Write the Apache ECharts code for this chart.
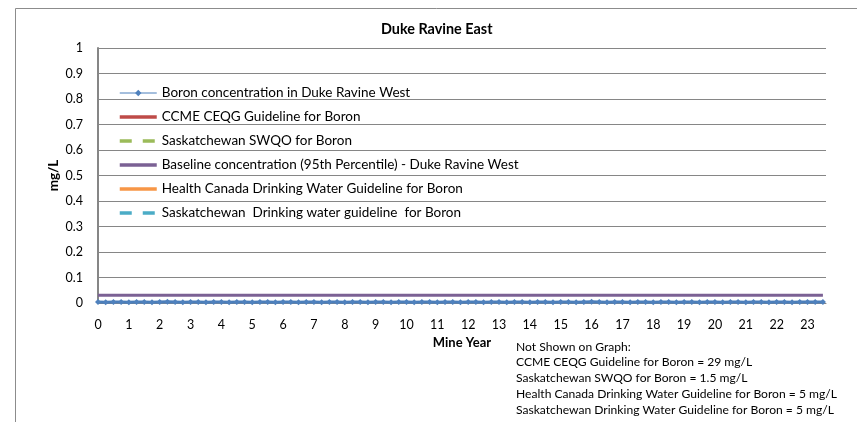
<!DOCTYPE html>
<html>
<head>
<meta charset="utf-8">
<script src="https://cdn.jsdelivr.net/npm/echarts@6/dist/echarts.min.js"></script>
<style>
html,body{margin:0;padding:0;background:#fff;}
#c{width:857px;height:422px;}
</style>
</head>
<body>
<div id="c"></div>
<script>
// ---- data ----
var title = 'Duke Ravine East';
var yTicks = [0, 0.1, 0.2, 0.3, 0.4, 0.5, 0.6, 0.7, 0.8, 0.9, 1];
var xTicks = [0,1,2,3,4,5,6,7,8,9,10,11,12,13,14,15,16,17,18,19,20,21,22,23];
var boronYears = [0,0.25,0.5,0.75,1,1.25,1.5,1.75,2,2.25,2.5,2.75,3,3.25,3.5,3.75,4,4.25,4.5,4.75,5,5.25,5.5,5.75,6,6.25,6.5,6.75,7,7.25,7.5,7.75,8,8.25,8.5,8.75,9,9.25,9.5,9.75,10,10.25,10.5,10.75,11,11.25,11.5,11.75,12,12.25,12.5,12.75,13,13.25,13.5,13.75,14,14.25,14.5,14.75,15,15.25,15.5,15.75,16,16.25,16.5,16.75,17,17.25,17.5,17.75,18,18.25,18.5,18.75,19,19.25,19.5,19.75,20,20.25,20.5,20.75,21,21.25,21.5,21.75,22,22.25,22.5,22.75,23,23.25,23.5];
var boronValues = [0.004,0.003,0.004,0.004,0.003,0.004,0.004,0.003,0.004,0.005,0.004,0.003,0.004,0.004,0.003,0.004,0.004,0.003,0.004,0.004,0.003,0.004,0.004,0.003,0.004,0.004,0.003,0.004,0.004,0.003,0.004,0.004,0.003,0.004,0.004,0.003,0.004,0.004,0.003,0.004,0.004,0.003,0.004,0.004,0.003,0.004,0.004,0.003,0.004,0.004,0.003,0.004,0.004,0.003,0.004,0.004,0.003,0.004,0.004,0.003,0.004,0.004,0.003,0.004,0.005,0.004,0.003,0.004,0.004,0.003,0.004,0.004,0.003,0.004,0.004,0.003,0.004,0.004,0.003,0.004,0.004,0.003,0.004,0.004,0.003,0.004,0.004,0.003,0.004,0.004,0.003,0.004,0.004,0.004,0.004];
var guideYears = [0, 23.5];
var ccmeValue = 29;
var swqoValue = 1.5;
var baselineValue = 0.03;
var healthValue = 5;
var skDrinkValue = 5;
var seriesNames = [
  'Boron concentration in Duke Ravine West',
  'CCME CEQG Guideline for Boron',
  'Saskatchewan SWQO for Boron',
  'Baseline concentration (95th Percentile) - Duke Ravine West',
  'Health Canada Drinking Water Guideline for Boron',
  'Saskatchewan  Drinking water guideline  for Boron'
];
var notes = [
  'Not Shown on Graph:',
  'CCME CEQG Guideline for Boron = 29 mg/L',
  'Saskatchewan SWQO for Boron = 1.5 mg/L',
  'Health Canada Drinking Water Guideline for Boron = 5 mg/L',
  'Saskatchewan Drinking Water Guideline for Boron = 5 mg/L'
];

function pairs(xs, ys){ return xs.map(function(x,i){ return [x, ys[i]]; }); }
function flat(xs, v){ return xs.map(function(x){ return [x, v]; }); }

var FONT = 'Lato';
var DASH = [12, 11];
var chart = echarts.init(document.getElementById('c'), null, {renderer:'canvas'});
var legendData = seriesNames.map(function(n, i){
  if (i === 0) return {name: n, lineStyle: {width: 1, color: '#4A7EBB', opacity: 1}};
  return {name: n, itemStyle: {opacity: 0}, lineStyle: {width: 3.5}};
});
var option = {
  animation: false,
  backgroundColor: '#fff',
  textStyle: {fontFamily: FONT},
  title: {
    text: title, left: 376, top: 17,
    textStyle: {fontFamily: FONT, fontWeight: 'bold', fontSize: 14.4, color: '#000'}
  },
  grid: {left: 98, right: 31, top: 48, bottom: 119, containLabel: false},
  legend: {
    orient: 'vertical', left: 113, top: 81, itemGap: 10, itemWidth: 37, itemHeight: 8,
    textStyle: {fontFamily: FONT, fontSize: 13.5, color: '#000'},
    data: legendData
  },
  xAxis: {
    type: 'value', min: 0, max: 23.6, interval: 1,
    name: 'Mine Year', nameLocation: 'middle', nameGap: 33, nameMoveOverlap: false,
    nameTextStyle: {fontFamily: FONT, fontWeight: 'bold', fontSize: 13, color: '#000'},
    axisLine: {show: true, lineStyle: {color: '#868686', width: 1}},
    axisTick: {show: false},
    splitLine: {show: false},
    axisLabel: {margin: 15, fontSize: 12.5, color: '#000', fontFamily: FONT, showMaxLabel: false,
      formatter: function(v){ return xTicks.indexOf(v) >= 0 ? String(v) : ''; }}
  },
  yAxis: {
    type: 'value', min: 0, max: 1, interval: 0.1,
    name: 'mg/L', nameLocation: 'middle', nameGap: 37, nameRotate: 90, nameMoveOverlap: false,
    nameTextStyle: {fontFamily: FONT, fontWeight: 'bold', fontSize: 13.5, color: '#000'},
    axisLine: {show: true, lineStyle: {color: '#868686', width: 2}},
    axisTick: {show: false},
    splitLine: {show: true, lineStyle: {color: '#868686', width: 1}},
    axisLabel: {margin: 15, fontSize: 12.5, color: '#000', fontFamily: FONT,
      formatter: function(v){ var r = Math.round(v*10)/10; return yTicks.indexOf(r) >= 0 ? String(r) : ''; }}
  },
  series: [
    {name: seriesNames[1], type: 'line', data: flat(guideYears, ccmeValue), showSymbol: false, symbol: 'none',
      lineStyle: {color: '#BE4B48', width: 3}, itemStyle: {color: '#BE4B48'}, clip: true},
    {name: seriesNames[2], type: 'line', data: flat(guideYears, swqoValue), showSymbol: false, symbol: 'none',
      lineStyle: {color: '#9BBB59', width: 3, type: DASH}, itemStyle: {color: '#9BBB59'}, clip: true},
    {name: seriesNames[4], type: 'line', data: flat(guideYears, healthValue), showSymbol: false, symbol: 'none',
      lineStyle: {color: '#F79646', width: 3}, itemStyle: {color: '#F79646'}, clip: true},
    {name: seriesNames[5], type: 'line', data: flat(guideYears, skDrinkValue), showSymbol: false, symbol: 'none',
      lineStyle: {color: '#4BACC6', width: 3, type: DASH}, itemStyle: {color: '#4BACC6'}, clip: true},
    {name: seriesNames[3], type: 'line', data: flat(guideYears, baselineValue), showSymbol: false, symbol: 'none',
      lineStyle: {color: '#7B6194', width: 3}, itemStyle: {color: '#7B6194'}, clip: true},
    {name: seriesNames[0], type: 'line', data: pairs(boronYears, boronValues), symbol: 'diamond', symbolSize: 6,
      showSymbol: true, lineStyle: {color: '#4A7EBB', width: 3}, itemStyle: {color: '#4F81BD'}, clip: false, z: 5}
  ],
  graphic: [
    {type: 'rect', left: 13, top: 6, shape: {x: 0, y: 0, width: 900, height: 414},
      style: {fill: 'none', stroke: '#8C8C8C', lineWidth: 1}, silent: true, z: -1},
    {type: 'text', left: 516, top: 339,
      style: {text: notes.join('\n'), font: '12.1px ' + FONT, fill: '#000', lineHeight: 15.7}}
  ]
};
chart.setOption(option);
</script>
</body>
</html>
